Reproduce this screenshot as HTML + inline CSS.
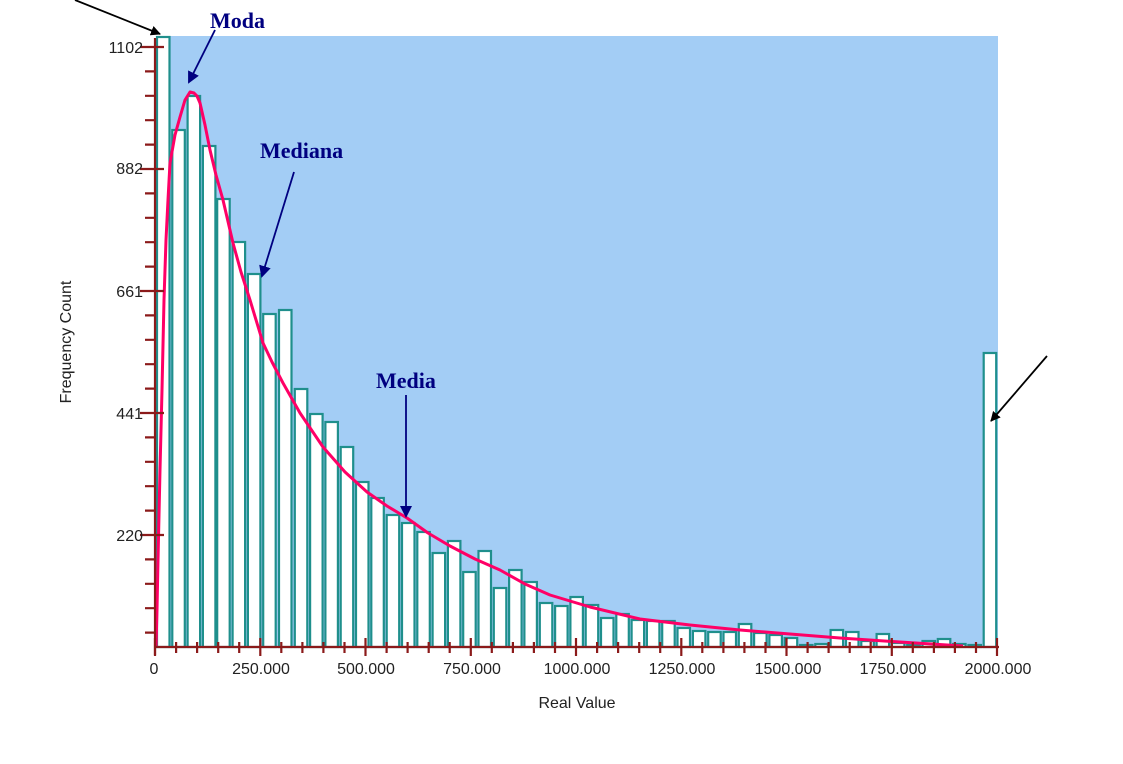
<!DOCTYPE html>
<html><head><meta charset="utf-8"><style>
html,body{margin:0;padding:0;background:#fff;}
svg{display:block;}
</style></head><body>
<svg width="1123" height="764" xmlns="http://www.w3.org/2000/svg" font-family="Liberation Sans, Arial, sans-serif">
<defs>
<marker id="ab" markerWidth="10" markerHeight="10" refX="9" refY="5" orient="auto" markerUnits="userSpaceOnUse" viewBox="0 0 10 10"><path d="M0,0 L10,5 L0,10 z" fill="#000"/></marker>
<marker id="an" markerWidth="12" markerHeight="12" refX="10" refY="6" orient="auto" markerUnits="userSpaceOnUse" viewBox="0 0 12 12"><path d="M0,0 L12,6 L0,12 z" fill="#000080"/></marker>
</defs>
<rect x="156" y="36" width="842" height="611" fill="#a3cdf5"/>
<g fill="#fff" stroke="#1f8f8c" stroke-width="2.2">
<rect x="157.0" y="37" width="12.5" height="610"/>
<rect x="172.3" y="130" width="12.5" height="517"/>
<rect x="187.6" y="96" width="12.5" height="551"/>
<rect x="202.9" y="146" width="12.5" height="501"/>
<rect x="217.2" y="199" width="12.5" height="448"/>
<rect x="232.6" y="242" width="12.5" height="405"/>
<rect x="247.9" y="274" width="12.5" height="373"/>
<rect x="263.2" y="314" width="12.5" height="333"/>
<rect x="279.0" y="310" width="12.5" height="337"/>
<rect x="294.8" y="389" width="12.5" height="258"/>
<rect x="310.1" y="414" width="12.5" height="233"/>
<rect x="325.4" y="422" width="12.5" height="225"/>
<rect x="340.7" y="447" width="12.5" height="200"/>
<rect x="356.0" y="482" width="12.5" height="165"/>
<rect x="371.3" y="498" width="12.5" height="149"/>
<rect x="386.7" y="515" width="12.5" height="132"/>
<rect x="402.0" y="523" width="12.5" height="124"/>
<rect x="417.3" y="532" width="12.5" height="115"/>
<rect x="432.6" y="553" width="12.5" height="94"/>
<rect x="447.9" y="541" width="12.5" height="106"/>
<rect x="463.2" y="572" width="12.5" height="75"/>
<rect x="478.5" y="551" width="12.5" height="96"/>
<rect x="493.8" y="588" width="12.5" height="59"/>
<rect x="509.1" y="570" width="12.5" height="77"/>
<rect x="524.4" y="582" width="12.5" height="65"/>
<rect x="539.8" y="603" width="12.5" height="44"/>
<rect x="555.1" y="606" width="12.5" height="41"/>
<rect x="570.4" y="597" width="12.5" height="50"/>
<rect x="585.7" y="605" width="12.5" height="42"/>
<rect x="601.0" y="618" width="12.5" height="29"/>
<rect x="616.3" y="614" width="12.5" height="33"/>
<rect x="631.6" y="620" width="12.5" height="27"/>
<rect x="646.9" y="621" width="12.5" height="26"/>
<rect x="662.2" y="621" width="12.5" height="26"/>
<rect x="677.5" y="628" width="12.5" height="19"/>
<rect x="692.9" y="631" width="12.5" height="16"/>
<rect x="708.2" y="632" width="12.5" height="15"/>
<rect x="723.5" y="632" width="12.5" height="15"/>
<rect x="738.8" y="624" width="12.5" height="23"/>
<rect x="754.1" y="633" width="12.5" height="14"/>
<rect x="769.4" y="635" width="12.5" height="12"/>
<rect x="784.7" y="638" width="12.5" height="9"/>
<rect x="800.0" y="645" width="12.5" height="2"/>
<rect x="815.3" y="644" width="12.5" height="3"/>
<rect x="830.6" y="630" width="12.5" height="17"/>
<rect x="846.0" y="632" width="12.5" height="15"/>
<rect x="861.3" y="641" width="12.5" height="6"/>
<rect x="876.6" y="634" width="12.5" height="13"/>
<rect x="891.9" y="643" width="12.5" height="4"/>
<rect x="907.2" y="645" width="12.5" height="2"/>
<rect x="922.5" y="641" width="12.5" height="6"/>
<rect x="937.8" y="639" width="12.5" height="8"/>
<rect x="953.1" y="644" width="12.5" height="3"/>
<rect x="968.4" y="645" width="12.5" height="2"/>
<rect x="983.7" y="353" width="12.5" height="294"/>
</g>
<polyline fill="none" stroke="#ff0066" stroke-width="3" stroke-linejoin="round" points="156,647 157,610 158,560 160,470 162,390 164,300 166,240 168,200 170,163 175,135 180,117 185,100 190,92 194,93 197,96 200,103 205,125 210,150 216,175 223,200 233,243 241,272 250,300 263,343 272,362 283,383 300,413 323,447 345,472 367,492 387,506 407,518 428,533 450,546 475,559 500,570 525,584 550,595 590,607 640,619 690,625 740,630 790,634 840,638 900,642 963,646"/>
<g stroke="#8b1a1a" stroke-width="2.2" fill="none">
<line x1="155" y1="38" x2="155" y2="655"/>
<line x1="155" y1="647" x2="999" y2="647"/>
<path d="M140,47H164 M140,169H164 M140,291H164 M140,413H164 M140,535H164 M145,71.4H156 M145,95.8H156 M145,120.2H156 M145,144.6H156 M145,193.4H156 M145,217.8H156 M145,242.2H156 M145,266.6H156 M145,315.4H156 M145,339.8H156 M145,364.2H156 M145,388.6H156 M145,437.4H156 M145,461.8H156 M145,486.2H156 M145,510.6H156 M145,559.4H156 M145,583.8H156 M145,608.2H156 M145,632.6H156"/>
<path d="M155,638V656 M260.3,638V656 M365.5,638V656 M470.8,638V656 M576,638V656 M681.3,638V656 M786.5,638V656 M891.8,638V656 M997,638V656 M176.1,642V653 M197.1,642V653 M218.2,642V653 M239.2,642V653 M281.3,642V653 M302.4,642V653 M323.4,642V653 M344.5,642V653 M386.6,642V653 M407.6,642V653 M428.7,642V653 M449.7,642V653 M491.8,642V653 M512.9,642V653 M533.9,642V653 M555,642V653 M597.1,642V653 M618.1,642V653 M639.2,642V653 M660.2,642V653 M702.3,642V653 M723.4,642V653 M744.4,642V653 M765.5,642V653 M807.6,642V653 M828.6,642V653 M849.7,642V653 M870.7,642V653 M912.8,642V653 M933.9,642V653 M954.9,642V653 M976,642V653"/>
</g>
<g font-size="16" fill="#222" text-anchor="end">
<text x="143" y="53">1102</text>
<text x="143" y="174">882</text>
<text x="143" y="297">661</text>
<text x="143" y="419">441</text>
<text x="143" y="541">220</text>
</g>
<g font-size="16" fill="#222" text-anchor="middle">
<text x="154" y="674">0</text>
<text x="261" y="674">250.000</text>
<text x="366" y="674">500.000</text>
<text x="472" y="674">750.000</text>
<text x="577" y="674">1000.000</text>
<text x="682" y="674">1250.000</text>
<text x="788" y="674">1500.000</text>
<text x="893" y="674">1750.000</text>
<text x="998" y="674">2000.000</text>
<text x="577" y="708">Real Value</text>
<text transform="translate(71,342) rotate(-90)">Frequency Count</text>
</g>
<g font-family="Liberation Serif, serif" font-weight="bold" font-size="22" fill="#000080">
<text x="210" y="28">Moda</text>
<text x="260" y="158">Mediana</text>
<text x="376" y="388">Media</text>
</g>
<g stroke="#000080" stroke-width="1.8">
<line x1="215" y1="30" x2="189" y2="82" marker-end="url(#an)"/>
<line x1="294" y1="172" x2="262" y2="276" marker-end="url(#an)"/>
<line x1="406" y1="395" x2="406" y2="516" marker-end="url(#an)"/>
</g>
<g stroke="#000" stroke-width="1.8">
<line x1="75" y1="0" x2="160" y2="34" marker-end="url(#ab)"/>
<line x1="1047" y1="356" x2="991" y2="421" marker-end="url(#ab)"/>
</g>
</svg>
</body></html>
